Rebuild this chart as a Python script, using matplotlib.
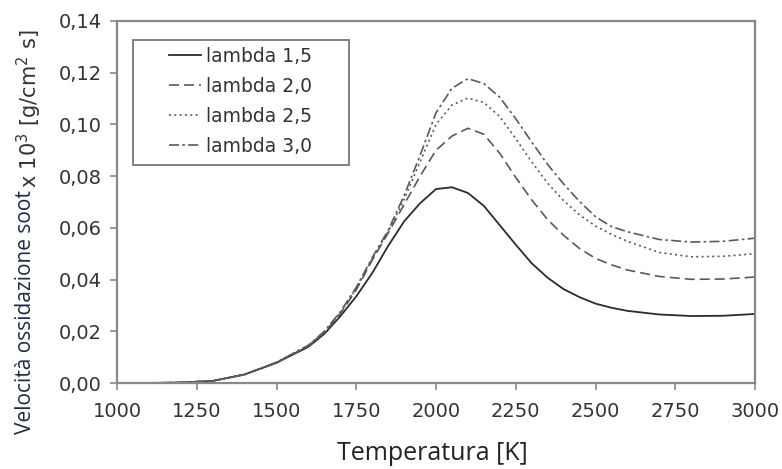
import matplotlib.pyplot as plt
from matplotlib.patches import Rectangle

# temperature grid [K]
temp = [1000, 1100, 1200, 1300, 1400, 1500, 1600, 1650, 1700, 1750, 1800, 1850, 1900, 1950,
        2000, 2050, 2100, 2150, 2200, 2250, 2300, 2350, 2400, 2450, 2500, 2550, 2600,
        2700, 2800, 2900, 3000]

lambda_15 = [0.0, 0.0, 0.0002, 0.0008, 0.0033, 0.0078, 0.0140, 0.0190, 0.0258, 0.0335, 0.0425,
             0.0530, 0.0625, 0.0695, 0.0750, 0.0757, 0.0735, 0.0685, 0.0610, 0.0535, 0.0463,
             0.0407, 0.0363, 0.0332, 0.0307, 0.0291, 0.0279, 0.0265, 0.0259, 0.0260, 0.0267]
lambda_20 = [0.0, 0.0, 0.0002, 0.0008, 0.0033, 0.0079, 0.0143, 0.0195, 0.0268, 0.0360, 0.0475,
             0.0580, 0.0690, 0.0800, 0.0900, 0.0955, 0.0985, 0.0962, 0.0888, 0.0795, 0.0708,
             0.0632, 0.0571, 0.0520, 0.0482, 0.0457, 0.0437, 0.0412, 0.0401, 0.0402, 0.0410]
lambda_25 = [0.0, 0.0, 0.0002, 0.0008, 0.0033, 0.0080, 0.0145, 0.0198, 0.0272, 0.0365, 0.0480,
             0.0585, 0.0710, 0.0855, 0.1000, 0.1075, 0.1102, 0.1085, 0.1030, 0.0945, 0.0855,
             0.0773, 0.0705, 0.0650, 0.0607, 0.0575, 0.0548, 0.0505, 0.0488, 0.0490, 0.0500]
lambda_30 = [0.0, 0.0, 0.0002, 0.0008, 0.0033, 0.0080, 0.0146, 0.0200, 0.0275, 0.0370, 0.0485,
             0.0590, 0.0725, 0.0880, 0.1045, 0.1140, 0.1177, 0.1158, 0.1105, 0.1022, 0.0932,
             0.0845, 0.0770, 0.0702, 0.0643, 0.0605, 0.0585, 0.0555, 0.0545, 0.0548, 0.0560]

labels = ["lambda 1,5", "lambda 2,0", "lambda 2,5", "lambda 3,0"]
x_ticks = [1000, 1250, 1500, 1750, 2000, 2250, 2500, 2750, 3000]
y_ticks = [0.0, 0.02, 0.04, 0.06, 0.08, 0.10, 0.12, 0.14]

W, H = 782, 469
fig = plt.figure(figsize=(W / 100, H / 100), dpi=100)
ax = fig.add_axes([117 / W, 1 - 383 / H, 638 / W, 362 / H])

ax.plot(temp, lambda_15, color="#2b2b2b", lw=1.3, ls="-", label=labels[0])
ax.plot(temp, lambda_20, color="#5a5a5a", lw=1.2, ls=(0, (6, 3)), label=labels[1])
ax.plot(temp, lambda_25, color="#5a5a5a", lw=1.2, ls=(0, (1.2, 2)), label=labels[2])
ax.plot(temp, lambda_30, color="#5a5a5a", lw=1.2, ls=(0, (6, 2, 1.5, 2)), label=labels[3])

ax.set_xlim(1000, 3000)
ax.set_ylim(0, 0.14)
ax.set_xticks(x_ticks)
ax.set_yticks(y_ticks)
ax.set_xticklabels([str(t) for t in x_ticks])
ax.set_yticklabels([f"{v:.2f}".replace(".", ",") for v in y_ticks])

for s in ax.spines.values():
    s.set_color("#888888")
    s.set_linewidth(1.6)
ax.tick_params(direction="out", length=5, width=1.2, color="#888888",
               labelsize=14, labelcolor="#333333")
ax.tick_params(axis="x", pad=9)
ax.tick_params(axis="y", pad=6)
for lab in ax.get_xticklabels() + ax.get_yticklabels():
    lab.set_family("DejaVu Sans")

# legend box drawn separately (wide side padding as in the original)
ax.add_patch(Rectangle(((133 - 117) / 638, (383 - 165) / 362), 216 / 638, 125 / 362,
                       transform=ax.transAxes, fill=True, facecolor="white",
                       edgecolor="#777777", lw=1.3, zorder=3))
leg = ax.legend(loc="upper left", bbox_to_anchor=((169 - 117) / 638, (383 - 47) / 362),
                borderaxespad=0, borderpad=0, frameon=False, handlelength=1.7,
                handletextpad=0.3, labelspacing=0.58,
                prop={"family": "DejaVu Sans", "size": 13.5})
leg.set_zorder(4)
for t in leg.get_texts():
    t.set_color("#333333")

fig.text(432 / W, 1 - 453 / H, "Temperatura [K]", ha="center", va="center",
         family="Open Sans", fontsize=18, color="#222222")

# y label: two parts with different fonts
t1 = fig.text(26 / W, 1 - 434 / H, "Velocità ossidazione soot", rotation=90,
              ha="center", va="bottom", family="Open Sans", fontsize=15, color="#1f2a44")
fig.canvas.draw()
bb = t1.get_window_extent()
fig.text(29 / W, bb.y1 / fig.bbox.height + 0.004, r"x 10$^3$ [g/cm$^2$ s]", rotation=90,
         ha="center", va="bottom", family="DejaVu Sans", fontsize=15, color="#333333")

fig.savefig("out.png", dpi=100)
